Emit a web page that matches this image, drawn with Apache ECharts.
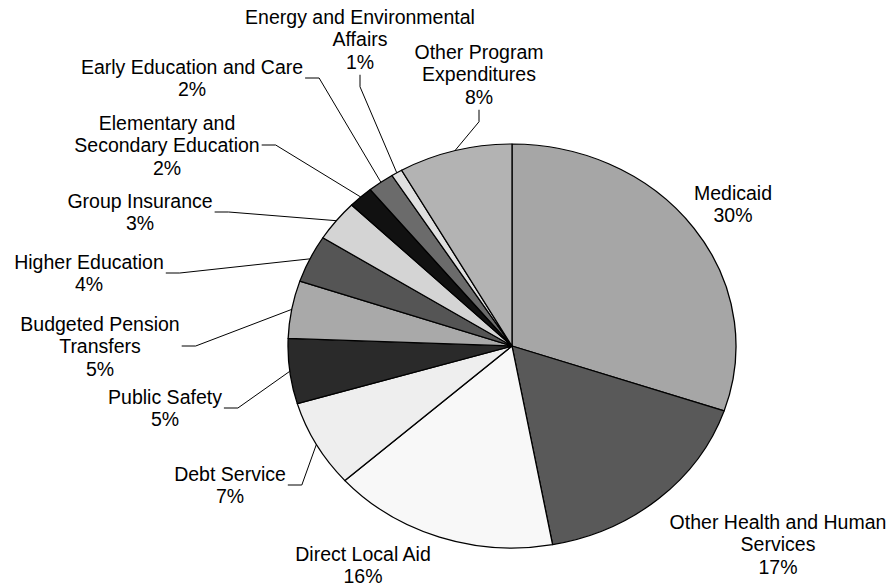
<!doctype html>
<html>
<head>
<meta charset="utf-8">
<title>Spending by category</title>
<script src="https://cdn.jsdelivr.net/npm/echarts@6/dist/echarts.min.js"></script>
<style>
body { margin: 0; padding: 0; background: #fff; }
#wrap { position: relative; width: 890px; height: 588px; overflow: hidden; }
#pie { position: absolute; left: 0; top: 0; width: 890px; transform-origin: 0 0; }
#lbl { position: absolute; left: 0; top: 0; width: 890px; height: 588px; }
</style>
</head>
<body>
<div id="wrap"><div id="pie"></div><div id="lbl"></div></div>
<script>
// data, clockwise from 12 o'clock
var names = ['Medicaid', 'Other Health and Human\nServices', 'Direct Local Aid', 'Debt Service',
    'Public Safety', 'Budgeted Pension\nTransfers', 'Higher Education', 'Group Insurance',
    'Elementary and\nSecondary Education', 'Early Education and Care',
    'Energy and Environmental\nAffairs', 'Other Program\nExpenditures'];
var values = [30.2, 16.9, 16.3, 7.0, 5.2, 4.6, 3.8, 3.3, 1.8, 1.9, 0.8, 8.2];
var colors = ['#a6a6a6', '#595959', '#f8f8f8', '#eeeeee', '#2a2a2a', '#a9a9a9',
    '#555555', '#d4d4d4', '#111111', '#6b6b6b', '#e0e0e0', '#b3b3b3'];

// where each label block sits (centre) and which side its leader line leaves from
var labelPos = [[733, 204], [778, 544], [363, 565], [230, 485], [165, 408], [100, 346],
    [89, 273], [140, 212], [167, 145], [192, 78], [360, 39], [479, 74]];
var lineSide = ['none', 'none', 'none', 'right', 'right', 'right',
    'right', 'right', 'right', 'right', 'bottom', 'bottom'];

// the pie in the picture is an ellipse
var cx = 512, cy = 346, rx = 224, ry = 202;
var k = ry / rx;

var total = values.reduce(function (a, b) { return a + b; }, 0);
var mids = [];
var acc = 0;
values.forEach(function (v) {
    mids.push((acc + v / 2) / total * Math.PI * 2);
    acc += v;
});

// slices: circle drawn in a taller box, squashed with css
var pieBox = document.getElementById('pie');
pieBox.style.height = Math.round(588 / k) + 'px';
pieBox.style.transform = 'scaleY(' + k + ')';
var pieChart = echarts.init(pieBox, null, { renderer: 'svg' });
pieChart.setOption({
    animation: false,
    series: [{
        type: 'pie',
        silent: true,
        center: [cx, cy / k],
        radius: rx,
        startAngle: 90,
        clockwise: true,
        label: { show: false },
        labelLine: { show: false },
        itemStyle: { borderColor: '#000', borderWidth: 1.3 },
        data: values.map(function (v, i) {
            return { name: names[i], value: v, itemStyle: { color: colors[i] } };
        })
    }]
});

// labels on an unscaled layer so the text keeps its shape
var lblChart = echarts.init(document.getElementById('lbl'), null, { renderer: 'svg' });
lblChart.setOption({
    animation: false,
    series: [{
        type: 'pie',
        silent: true,
        center: [cx, cy],
        radius: rx,
        startAngle: 90,
        clockwise: true,
        avoidLabelOverlap: false,
        itemStyle: { color: 'rgba(0,0,0,0)', borderWidth: 0 },
        label: {
            show: true,
            position: 'outside',
            color: '#000',
            fontFamily: 'Liberation Sans',
            fontSize: 19.5,
            lineHeight: 22.5,
            formatter: function (p) {
                return p.name + '\n' + Math.round(p.value / total * 100) + '%';
            }
        },
        labelLine: { show: true, lineStyle: { color: '#000', width: 1 } },
        labelLayout: function (p) {
            var i = p.dataIndex;
            var pos = labelPos[i];
            var w = p.labelRect.width, h = p.labelRect.height;
            var out = { x: pos[0], y: pos[1], align: 'center', verticalAlign: 'middle' };
            if (lineSide[i] !== 'none') {
                var s = [cx + rx * Math.sin(mids[i]), cy - ry * Math.cos(mids[i])];
                var end, bend;
                if (lineSide[i] === 'right') {
                    end = [pos[0] + w / 2 + 2, pos[1]];
                    bend = [end[0] + 14, end[1]];
                } else {
                    end = [pos[0], pos[1] + h / 2 + 2];
                    bend = [end[0], end[1] + 12];
                }
                out.labelLinePoints = [s, bend, end];
            }
            return out;
        },
        data: values.map(function (v, i) {
            return { name: names[i], value: v, labelLine: { show: lineSide[i] !== 'none' } };
        })
    }]
});
</script>
</body>
</html>
